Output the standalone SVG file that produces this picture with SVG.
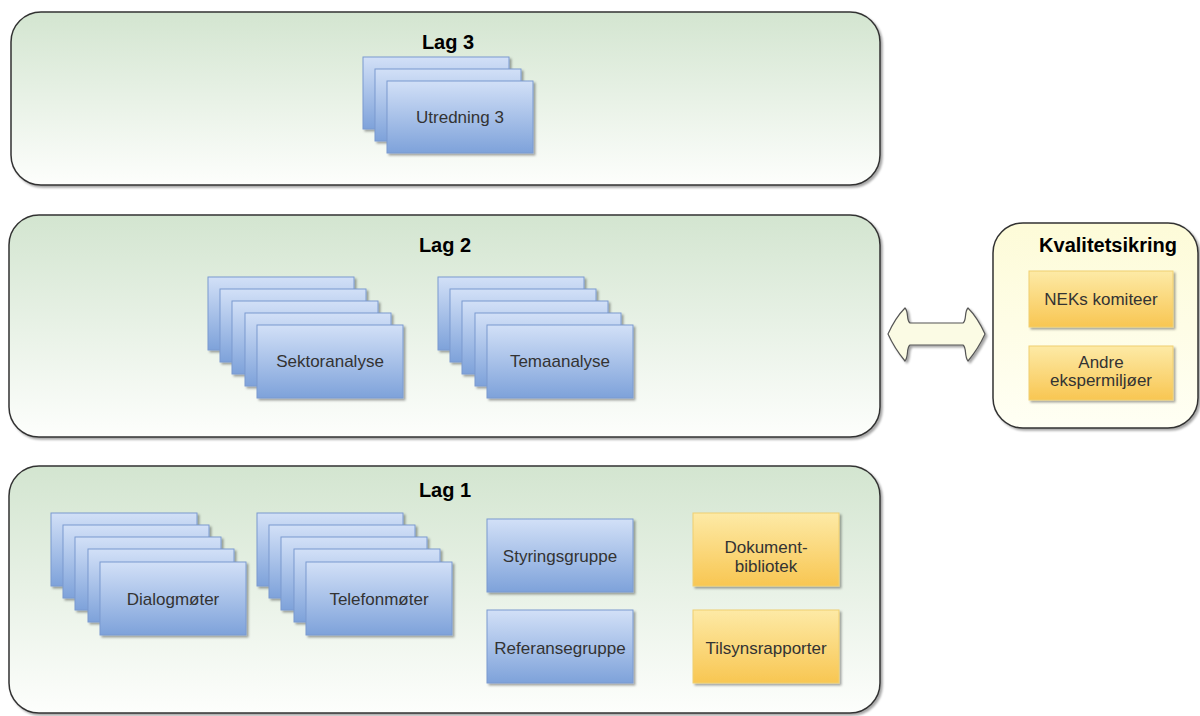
<svg xmlns="http://www.w3.org/2000/svg" width="1200" height="716" viewBox="0 0 1200 716">
<defs>
<linearGradient id="gLayer" x1="0" y1="0" x2="0" y2="1">
<stop offset="0" stop-color="#d3e5d0"/>
<stop offset="1" stop-color="#fdfefc"/>
</linearGradient>
<linearGradient id="gQual" x1="0" y1="0" x2="0" y2="1">
<stop offset="0" stop-color="#fdfbd8"/>
<stop offset="1" stop-color="#fffff4"/>
</linearGradient>
<linearGradient id="gBlue" x1="0" y1="0" x2="0" y2="1">
<stop offset="0" stop-color="#d2e0f7"/>
<stop offset="1" stop-color="#7ea2da"/>
</linearGradient>
<linearGradient id="gYellow" x1="0" y1="0" x2="0" y2="1">
<stop offset="0" stop-color="#fdeaa6"/>
<stop offset="1" stop-color="#f8c652"/>
</linearGradient>
<filter id="sh" x="-10%" y="-10%" width="130%" height="130%">
<feDropShadow dx="2" dy="2" stdDeviation="1.2" flood-color="#000" flood-opacity="0.35"/>
</filter>
</defs>
<style>
.layer{fill:url(#gLayer);stroke:#333;stroke-width:1.5;filter:url(#sh)}
.qual{fill:url(#gQual);stroke:#333;stroke-width:1.5;filter:url(#sh)}
.blue{fill:url(#gBlue);stroke:#7b9ad0;stroke-width:1;filter:url(#sh)}
.yellow{fill:url(#gYellow);stroke:#f0d070;stroke-width:1;filter:url(#sh)}
.title{font-family:"Liberation Sans",Arial,sans-serif;font-size:20px;font-weight:bold;fill:#000;text-anchor:middle}
.lbl{font-family:"Liberation Sans",Arial,sans-serif;font-size:17px;fill:#333;text-anchor:middle}
.arrow{fill:#fbfbe4;stroke:#555;stroke-width:1.2;filter:url(#sh)}
</style>

<g id="lag3">
<rect class="layer" x="11" y="12" width="869" height="173" rx="30" ry="30"/>
<text class="title" x="448" y="49">Lag 3</text>
</g>
<g id="utredning3">
<rect class="blue" x="363" y="57" width="146" height="72"/>
<rect class="blue" x="375" y="69" width="146" height="72"/>
<rect class="blue" x="387" y="81" width="146" height="72"/>
<text class="lbl" x="460" y="123">Utredning 3</text>
</g>

<g id="lag2">
<rect class="layer" x="9" y="215" width="871" height="222" rx="30" ry="30"/>
<text class="title" x="445" y="252">Lag 2</text>
</g>
<g id="sektoranalyse">
<rect class="blue" x="208" y="277" width="146" height="73"/>
<rect class="blue" x="220" y="289" width="146" height="73"/>
<rect class="blue" x="232" y="301" width="146" height="73"/>
<rect class="blue" x="245" y="313" width="146" height="73"/>
<rect class="blue" x="257" y="325" width="146" height="73"/>
<text class="lbl" x="330" y="367">Sektoranalyse</text>
</g>
<g id="temaanalyse">
<rect class="blue" x="438" y="277" width="146" height="73"/>
<rect class="blue" x="450" y="289" width="146" height="73"/>
<rect class="blue" x="462" y="301" width="146" height="73"/>
<rect class="blue" x="475" y="313" width="146" height="73"/>
<rect class="blue" x="487" y="325" width="146" height="73"/>
<text class="lbl" x="560" y="367">Temaanalyse</text>
</g>

<g id="lag1">
<rect class="layer" x="9" y="466" width="871" height="247" rx="30" ry="30"/>
<text class="title" x="445" y="497">Lag 1</text>
</g>
<g id="dialogmoter">
<rect class="blue" x="51" y="513" width="146" height="73"/>
<rect class="blue" x="63" y="525" width="146" height="73"/>
<rect class="blue" x="75" y="537" width="146" height="73"/>
<rect class="blue" x="88" y="549" width="146" height="73"/>
<rect class="blue" x="100" y="562" width="146" height="73"/>
<text class="lbl" x="173" y="605">Dialogmøter</text>
</g>
<g id="telefonmoter">
<rect class="blue" x="257" y="513" width="146" height="73"/>
<rect class="blue" x="269" y="525" width="146" height="73"/>
<rect class="blue" x="281" y="537" width="146" height="73"/>
<rect class="blue" x="294" y="549" width="146" height="73"/>
<rect class="blue" x="306" y="562" width="146" height="73"/>
<text class="lbl" x="379" y="605">Telefonmøter</text>
</g>
<g id="styringsgruppe">
<rect class="blue" x="487" y="519" width="146" height="73"/>
<text class="lbl" x="560" y="562">Styringsgruppe</text>
</g>
<g id="referansegruppe">
<rect class="blue" x="487" y="610" width="146" height="73"/>
<text class="lbl" x="560" y="654">Referansegruppe</text>
</g>
<g id="dokumentbibliotek">
<rect class="yellow" x="693" y="513" width="146" height="73"/>
<text class="lbl" x="766" y="553">Dokument-</text>
<text class="lbl" x="766" y="572">bibliotek</text>
</g>
<g id="tilsynsrapporter">
<rect class="yellow" x="693" y="610" width="146" height="73"/>
<text class="lbl" x="766" y="654">Tilsynsrapporter</text>
</g>

<g id="kvalitetsikring">
<rect class="qual" x="993" y="223" width="205" height="205" rx="30" ry="30"/>
<text class="title" x="1108" y="252">Kvalitetsikring</text>
</g>
<g id="nekskomiteer">
<rect class="yellow" x="1029" y="271" width="144" height="56"/>
<text class="lbl" x="1101" y="305">NEKs komiteer</text>
</g>
<g id="andreekspermiljoer">
<rect class="yellow" x="1029" y="346" width="144" height="54"/>
<text class="lbl" x="1101" y="368">Andre</text>
<text class="lbl" x="1101" y="386">ekspermiljøer</text>
</g>

<g id="connectors">
<path class="arrow" d="M888,334 C893,323 900,313 905,308 C909,312 906,320 910,323 L963,323 C967,320 964,312 968,308 C973,313 980,323 985,334 C980,345 973,355 968,361 C964,356 967,348 963,345 L910,345 C906,348 909,356 905,361 C900,355 893,345 888,334 Z"/>
</g>
</svg>
